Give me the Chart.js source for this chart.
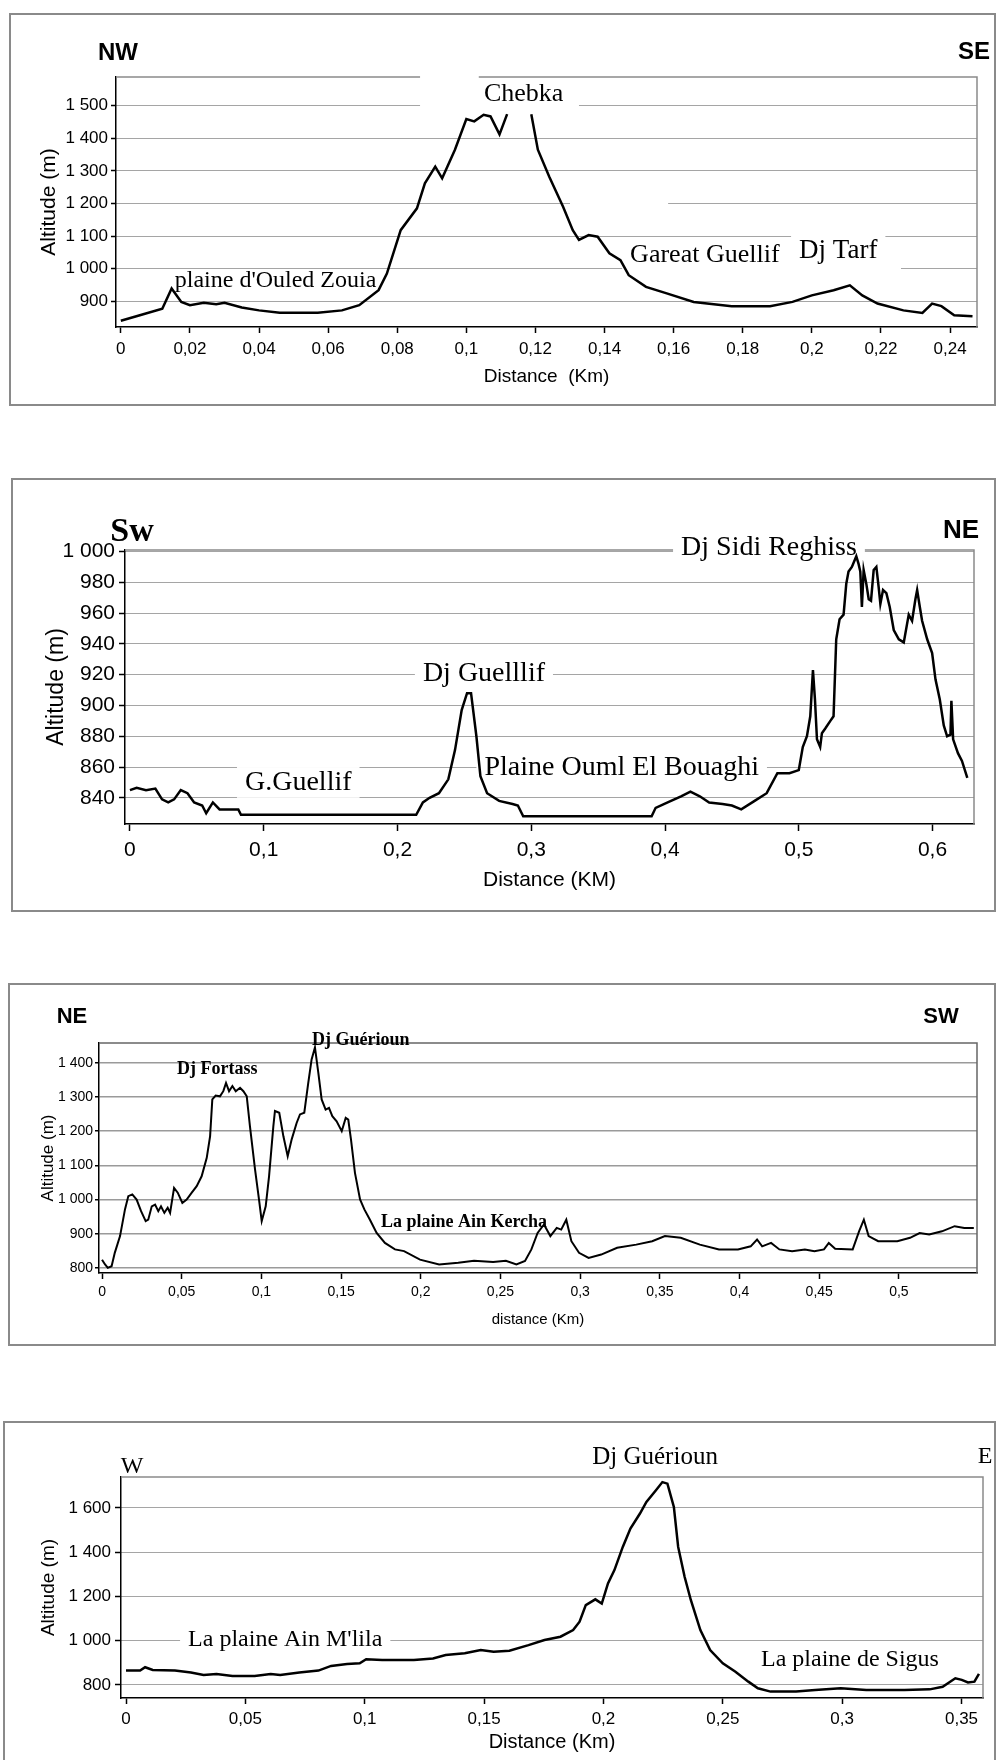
<!DOCTYPE html>
<html lang="fr">
<head>
<meta charset="UTF-8">
<title>Profils topographiques</title>
<script src="https://cdn.jsdelivr.net/npm/chart.js"></script>
<style>
  html, body { margin: 0; background: #fff; }
  body { position: relative; width: 998px; height: 1760px; overflow: hidden; }
  .box { position: absolute; border: 2px solid #8a8a8a; box-sizing: border-box; }
  canvas { position: absolute; left: 0; }
</style>
</head>
<body>
<div class="box" style="left:9px;top:13px;width:987px;height:393px"></div>
<div class="box" style="left:11px;top:478px;width:985px;height:434px"></div>
<div class="box" style="left:8px;top:983px;width:988px;height:363px"></div>
<div class="box" style="left:3px;top:1421px;width:993px;height:360px"></div>

<canvas id="p1" width="998" height="392" style="top:13px"></canvas>
<canvas id="p2" width="998" height="433" style="top:478px"></canvas>
<canvas id="p3" width="998" height="362" style="top:983px"></canvas>
<canvas id="p4" width="998" height="339" style="top:1421px"></canvas>

<script>
// profil 1 : NW - SE (Chebka)
const p1Dist = [0, 0.0055, 0.012, 0.0147, 0.0175, 0.02, 0.024, 0.0276, 0.03, 0.035, 0.04, 0.046, 0.057, 0.064, 0.069, 0.0746, 0.077, 0.081, 0.0857, 0.088, 0.091, 0.093, 0.0967, 0.1, 0.1023, 0.105, 0.107, 0.1096, 0.1118, 0.115, 0.1188, 0.1207, 0.124, 0.128, 0.1308, 0.1326, 0.1354, 0.138, 0.1414, 0.1446, 0.147, 0.152, 0.158, 0.1658, 0.1768, 0.1879, 0.1944, 0.2, 0.2063, 0.211, 0.2146, 0.219, 0.2265, 0.232, 0.2348, 0.2375, 0.2412, 0.2465];
const p1Alt = [840, 857, 877, 939, 898, 888, 895, 891, 895, 881, 872, 865, 865, 872, 888, 934, 985, 1118, 1185, 1262, 1313, 1277, 1365, 1459, 1452, 1472, 1467, 1412, 1474, null, 1474, 1365, 1282, 1190, 1118, 1088, 1103, 1098, 1047, 1026, 980, 944, 924, 898, 885, 885, 898, 918, 934, 949, 918, 893, 872, 864, 893, 885, 857, 854];
const p1XTicks = [0, 0.02, 0.04, 0.06, 0.08, 0.1, 0.12, 0.14, 0.16, 0.18, 0.2, 0.22, 0.24];
const p1YTicks = [900, 1000, 1100, 1200, 1300, 1400, 1500];

// profil 2 : SW - NE (Dj Sidi Reghiss)
const p2Dist = [0, 0.005, 0.012, 0.019, 0.024, 0.0286, 0.033, 0.038, 0.043, 0.048, 0.054, 0.057, 0.062, 0.067, 0.081, 0.083, 0.214, 0.219, 0.224, 0.231, 0.238, 0.243, 0.248, 0.252, 0.255, 0.259, 0.262, 0.267, 0.276, 0.286, 0.29, 0.294, 0.39, 0.393, 0.402, 0.412, 0.419, 0.426, 0.433, 0.443, 0.45, 0.457, 0.467, 0.476, 0.484, 0.493,
  0.5, 0.503, 0.5061, 0.5086, 0.5106, 0.5121, 0.5136, 0.516, 0.5173, 0.5198, 0.5236, 0.526, 0.528, 0.5305, 0.5335, 0.5355, 0.5372, 0.5397, 0.543, 0.5447, 0.546, 0.5472, 0.5485, 0.5505, 0.5523, 0.554, 0.556, 0.558, 0.5597, 0.561, 0.563, 0.5655, 0.568, 0.571, 0.5748, 0.5785, 0.5822, 0.5847, 0.5872, 0.5885, 0.5905, 0.5922, 0.596, 0.5997, 0.6022, 0.6054, 0.6084, 0.6109, 0.6134, 0.6141, 0.6154, 0.619, 0.622, 0.626];
const p2Alt = [845, 846.5, 845, 846, 839, 837, 839, 845, 843, 837, 835, 830, 837, 832.5, 832.5, 829, 829, 837, 840, 843, 852, 871, 897, 908, 908, 880, 854, 843, 838, 836, 835, 828, 828, 833.5, 837, 841, 844, 841, 837, 836, 835, 832.5, 838, 843, 856, 856,
  858, 873, 880, 893, 923, 904, 878, 873, 882, 885, 890, 893, 943, 956, 959, 979, 987, 990, 997, 992, 987, 964, 988, 979, 969, 968, 988, 990, 977, 966, 975, 973, 964, 949, 943, 941, 959, 955, 969, 975, 964, 955, 943, 934, 917, 904, 887, 880, 881, 903, 878, 869, 864, 853];
const p2XTicks = [0, 0.1, 0.2, 0.3, 0.4, 0.5, 0.6];
const p2YTicks = [840, 860, 880, 900, 920, 940, 960, 980, 1000];

// profil 3 : NE - SW (Dj Fortass, Dj Guérioun)
const p3Dist = [0, 0.0019, 0.0036, 0.006, 0.008, 0.0113, 0.0144, 0.0165, 0.019, 0.0217, 0.0245, 0.0274, 0.029, 0.0312, 0.0333, 0.0353, 0.037, 0.0391, 0.0412, 0.0427, 0.0452, 0.0475, 0.0504, 0.0531, 0.0563, 0.0594, 0.0625, 0.0657, 0.0678, 0.0692, 0.0713, 0.074, 0.0761, 0.0778, 0.0797, 0.0818, 0.0839, 0.0866, 0.0887, 0.0908, 0.0928, 0.096, 0.0985, 0.1002, 0.1027, 0.1048, 0.1075, 0.1085, 0.1112, 0.1138, 0.1165, 0.119, 0.1221, 0.1242, 0.1269, 0.1294, 0.1315, 0.1336, 0.1357, 0.1378, 0.1403, 0.1424, 0.1445, 0.1472, 0.1504, 0.1529, 0.1545, 0.1562, 0.1587, 0.1619, 0.1646, 0.1681, 0.1723, 0.1775, 0.1838,
  0.1895, 0.1995, 0.2115, 0.2235, 0.2334, 0.2454, 0.2534, 0.26, 0.2654, 0.2694, 0.2733, 0.2773, 0.2813, 0.2853, 0.2881, 0.2913, 0.2945, 0.2993, 0.3053, 0.3132, 0.3232, 0.3352, 0.3452, 0.3532, 0.3631, 0.3751, 0.3871, 0.399, 0.407, 0.411, 0.4142, 0.4198, 0.425, 0.433, 0.441, 0.447, 0.453, 0.456, 0.46, 0.471, 0.475, 0.478, 0.481, 0.487, 0.499, 0.507, 0.513, 0.519, 0.527, 0.535, 0.541, 0.547];
const p3Alt = [824, 810, 800, 805, 844, 893, 971, 1010, 1015, 1000, 966, 937, 941, 980, 985, 966, 980, 961, 976, 961, 1034, 1020, 990, 1000, 1020, 1039, 1068, 1122, 1185, 1293, 1304, 1302, 1317, 1341, 1317, 1332, 1317, 1327, 1317, 1302, 1215, 1088, 1000, 937, 980, 1068, 1215, 1259, 1254, 1185, 1127, 1176, 1224, 1249, 1254, 1341, 1410, 1445, 1371, 1293, 1263, 1268, 1244, 1229, 1200, 1239, 1234, 1176, 1078, 1000, 971, 941, 902, 873, 854,
  849, 824, 810, 815, 821, 817, 821, 810, 820, 854, 902, 927, 893, 917, 912, 941, 878, 844, 829, 839, 859, 868, 878, 893, 888, 868, 854, 854, 863, 883, 863, 873, 854, 849, 854, 849, 854, 873, 856, 854, 907, 941, 893, 878, 878, 888, 902, 898, 907, 922, 917, 917];
const p3XTicks = [0, 0.05, 0.1, 0.15, 0.2, 0.25, 0.3, 0.35, 0.4, 0.45, 0.5];
const p3YTicks = [800, 900, 1000, 1100, 1200, 1300, 1400];

// profil 4 : W - E (Dj Guérioun)
const p4Dist = [0, 0.0059, 0.008, 0.0112, 0.0205, 0.0272, 0.0325, 0.0379, 0.0446, 0.0539, 0.0606, 0.0646, 0.0726, 0.0806, 0.0859, 0.0926, 0.0979, 0.1006, 0.1073, 0.1206, 0.1286, 0.1339, 0.1419, 0.1486, 0.154, 0.1606, 0.1686, 0.1753, 0.182, 0.1873, 0.19, 0.1926, 0.1966, 0.1993, 0.2019, 0.2046, 0.2081, 0.2113, 0.2153, 0.218, 0.222, 0.2247, 0.2268, 0.2295, 0.2313, 0.234, 0.2366, 0.2406, 0.2447, 0.25, 0.2553, 0.2607, 0.2647, 0.27, 0.2807, 0.2887, 0.2994, 0.3101, 0.3261, 0.3367, 0.3421, 0.3474, 0.3501, 0.3527, 0.3554, 0.3573];
const p4Alt = [865, 865, 880, 868, 865, 856, 845, 850, 841, 841, 850, 845, 856, 865, 886, 895, 898, 916, 913, 913, 920, 935, 943, 958, 950, 955, 980, 1003, 1018, 1048, 1086, 1161, 1187, 1168, 1259, 1319, 1424, 1507, 1575, 1627, 1680, 1717, 1710, 1605, 1424, 1289, 1184, 1048, 958, 898, 860, 815, 785, 770, 770, 777, 785, 777, 777, 780, 792, 830, 823, 811, 815, 850];
const p4XTicks = [0, 0.05, 0.1, 0.15, 0.2, 0.25, 0.3, 0.35];
const p4YTicks = [800, 1000, 1200, 1400, 1600];

const SANS = "'Liberation Sans', Arial, sans-serif";
const NARROW = "'Liberation Sans Narrow', 'Liberation Sans', sans-serif";
const SERIF = "'Liberation Serif', 'Times New Roman', serif";

// 1 500 / 0,02
function fmt(v) {
  if (v >= 1000) return Math.floor(v / 1000) + ' ' + String(v % 1000).padStart(3, '0');
  return String(v).replace('.', ',');
}

function profile(id, p) {
  const W = 998, H = document.getElementById(id).height;
  const [aLeft, aRight, aTop, aBottom] = p.area;

  const decor = {
    id: 'decor',
    beforeDatasetsDraw(chart) {
      const c = chart.ctx, a = chart.chartArea, xs = chart.scales.x, ys = chart.scales.y;
      c.save();
      c.setLineDash([]);
      c.strokeStyle = p.frameColor;
      c.lineWidth = 1.5;
      c.beginPath();
      c.moveTo(a.left, a.top);
      c.lineTo(a.right, a.top);
      c.lineTo(a.right, a.bottom);
      c.stroke();

      c.fillStyle = '#fff';
      (p.masks || []).forEach(m => {
        const x0 = xs.getPixelForValue(m.x0), x1 = xs.getPixelForValue(m.x1);
        const y0 = ys.getPixelForValue(m.y1), y1 = ys.getPixelForValue(m.y0);
        c.fillRect(x0, y0, x1 - x0, y1 - y0);
      });

      c.textAlign = 'left';
      c.textBaseline = 'middle';
      p.notes.forEach(n => {
        const x = xs.getPixelForValue(n.x), y = ys.getPixelForValue(n.y);
        c.font = n.font;
        if (n.bg) {
          const w = c.measureText(n.text).width;
          c.fillStyle = '#fff';
          c.fillRect(x - 8, y - n.size * 0.55, w + 16, n.size * 1.1);
        }
        c.fillStyle = '#000';
        c.fillText(n.text, x, y);
      });
      c.restore();
    },
    afterDraw(chart) {
      const c = chart.ctx;
      c.save();
      c.textAlign = 'center';
      c.textBaseline = 'middle';
      c.fillStyle = '#000';
      p.corners.forEach(k => {
        c.font = k.font;
        c.fillText(k.text, k.x, k.y);
      });
      c.restore();
    }
  };

  const tickFont = { family: SANS, size: p.tickSize };

  return new Chart(document.getElementById(id), {
    type: 'line',
    data: {
      datasets: [{
        data: p.dist.map((d, i) => ({ x: d, y: p.alt[i] })),
        borderColor: '#000',
        borderWidth: p.lineWidth,
        pointRadius: 0,
        tension: 0,
        spanGaps: false,
        fill: false
      }]
    },
    options: {
      responsive: false,
      animation: false,
      events: [],
      layout: { padding: { left: p.padL, right: W - aRight, top: aTop, bottom: p.padB } },
      plugins: { legend: { display: false }, tooltip: { enabled: false } },
      scales: {
        x: {
          type: 'linear',
          min: p.xMin, max: p.xMax,
          afterBuildTicks: s => { s.ticks = p.xTicks.map(v => ({ value: v })); },
          afterFit: s => { s.height = H - p.padB - aBottom; },
          grid: { drawOnChartArea: false, drawTicks: true, tickLength: p.xTick[0], tickColor: '#000', tickWidth: 1.5 },
          border: { color: '#000', width: 1.5 },
          ticks: { padding: p.xTick[1], font: tickFont, color: '#000', autoSkip: false, maxRotation: 0, callback: v => fmt(v) },
          title: { display: true, text: p.xTitle, color: '#000', font: { family: SANS, size: p.xTitleSize }, padding: { top: 4, bottom: 4 } }
        },
        y: {
          type: 'linear',
          min: p.yMin, max: p.yMax,
          afterBuildTicks: s => { s.ticks = p.yTicks.map(v => ({ value: v })); },
          afterFit: s => { s.width = aLeft - p.padL; },
          grid: { color: p.gridColor, lineWidth: p.gridWidth, drawTicks: true, tickLength: p.yTick[0], tickColor: '#000', tickWidth: 1.5, tickBorderDash: [] },
          border: { color: '#000', width: 1.5, dash: p.gridDash },
          ticks: { padding: p.yTick[1], font: tickFont, color: '#000', autoSkip: false, callback: v => fmt(v) },
          title: { display: true, text: 'Altitude (m)', color: '#000', font: { family: SANS, size: p.yTitleSize }, padding: { top: 4, bottom: 4 } }
        }
      }
    },
    plugins: [decor]
  });
}

profile('p1', {
  dist: p1Dist, alt: p1Alt, xTicks: p1XTicks, yTicks: p1YTicks,
  xMin: -0.0014, xMax: 0.2478, yMin: 821, yMax: 1588,
  area: [116, 977, 64, 314], padL: 33, padB: 13,
  tickSize: 17, xTitleSize: 19, yTitleSize: 21, xTick: [6, 6], yTick: [5, 3],
  xTitle: 'Distance  (Km)', lineWidth: 2.5,
  gridColor: '#4a4a4a', gridWidth: 1, gridDash: [1, 1], frameColor: '#8a8a8a',
  masks: [
    { x0: 0.0866, x1: 0.1036, y0: 1565, y1: 1600 },
    { x0: 0.0866, x1: 0.1326, y0: 1488, y1: 1512 },
    { x0: 0.130, x1: 0.1584, y0: 1190, y1: 1210 },
    { x0: 0.1465, x1: 0.2258, y0: 990, y1: 1010 }
  ],
  notes: [
    { text: "plaine d'Ouled Zouia", x: 0.0156, y: 964, font: '24px ' + SERIF, size: 24 },
    { text: 'Chebka', x: 0.1051, y: 1534, font: '26px ' + SERIF, size: 26, bg: true },
    { text: 'Gareat Guellif', x: 0.1474, y: 1040, font: '26px ' + SERIF, size: 26, bg: true },
    { text: 'Dj Tarf', x: 0.1963, y: 1055, font: '27px ' + SERIF, size: 27, bg: true }
  ],
  corners: [
    { text: 'NW', x: 118, y: 40, font: 'bold 24px ' + NARROW },
    { text: 'SE', x: 974, y: 39, font: 'bold 24px ' + NARROW }
  ]
});

profile('p2', {
  dist: p2Dist, alt: p2Alt, xTicks: p2XTicks, yTicks: p2YTicks,
  xMin: -0.0037, xMax: 0.631, yMin: 823, yMax: 1001,
  area: [125, 974, 72, 346], padL: 39, padB: 14,
  tickSize: 21, xTitleSize: 21, yTitleSize: 23, xTick: [7, 7], yTick: [6, 4],
  xTitle: 'Distance (KM)', lineWidth: 2.5,
  gridColor: '#4a4a4a', gridWidth: 1, gridDash: [1, 1], frameColor: '#8a8a8a',
  notes: [
    { text: 'G.Guellif', x: 0.086, y: 850, font: '28px ' + SERIF, size: 28, bg: true },
    { text: 'Dj Guelllif', x: 0.219, y: 921, font: '28px ' + SERIF, size: 28, bg: true },
    { text: 'Plaine Ouml El Bouaghi', x: 0.265, y: 859.5, font: '28px ' + SERIF, size: 28, bg: true },
    { text: 'Dj Sidi Reghiss', x: 0.412, y: 1002.6, font: '28px ' + SERIF, size: 28, bg: true }
  ],
  corners: [
    { text: 'Sw', x: 132, y: 54, font: 'bold 34px ' + SERIF },
    { text: 'NE', x: 961, y: 53, font: 'bold 26px ' + NARROW }
  ]
});

profile('p3', {
  dist: p3Dist, alt: p3Alt, xTicks: p3XTicks, yTicks: p3YTicks,
  xMin: -0.0019, xMax: 0.549, yMin: 785, yMax: 1458,
  area: [99, 977, 60, 290], padL: 34, padB: 12,
  tickSize: 14, xTitleSize: 15, yTitleSize: 17, xTick: [6, 5], yTick: [4, 2],
  xTitle: 'distance (Km)', lineWidth: 2,
  gridColor: '#9a9a9a', gridWidth: 1.5, gridDash: [], frameColor: '#666',
  notes: [
    { text: 'Dj Fortass', x: 0.047, y: 1382, font: 'bold 18px ' + SERIF, size: 18 },
    { text: 'Dj Guérioun', x: 0.1317, y: 1467, font: 'bold 18px ' + SERIF, size: 18 },
    { text: 'La plaine Ain Kercha', x: 0.175, y: 934.5, font: 'bold 18px ' + SERIF, size: 18 }
  ],
  corners: [
    { text: 'NE', x: 72, y: 34, font: 'bold 22px ' + NARROW },
    { text: 'SW', x: 941, y: 34, font: 'bold 22px ' + NARROW }
  ]
});

profile('p4', {
  dist: p4Dist, alt: p4Alt, xTicks: p4XTicks, yTicks: p4YTicks,
  xMin: -0.0021, xMax: 0.359, yMin: 741, yMax: 1740,
  area: [121, 983, 56, 277], padL: 33, padB: 2,
  tickSize: 17, xTitleSize: 20, yTitleSize: 19, xTick: [6, 5], yTick: [6, 4],
  xTitle: 'Distance (Km)', lineWidth: 2.5,
  gridColor: '#4a4a4a', gridWidth: 1, gridDash: [1, 1], frameColor: '#8a8a8a',
  notes: [
    { text: 'Dj Guérioun', x: 0.1953, y: 1827, font: '25px ' + SERIF, size: 25 },
    { text: "La plaine Ain M'lila", x: 0.026, y: 1004, font: '24px ' + SERIF, size: 24, bg: true },
    { text: 'La plaine de Sigus', x: 0.266, y: 913, font: '24px ' + SERIF, size: 24 }
  ],
  corners: [
    { text: 'W', x: 132, y: 46, font: '24px ' + SERIF },
    { text: 'E', x: 985, y: 36, font: '24px ' + SERIF }
  ]
});
</script>
</body>
</html>
